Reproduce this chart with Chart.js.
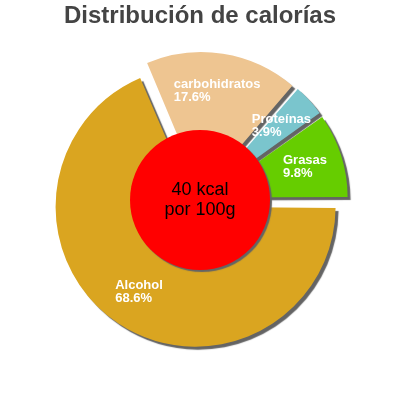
<!DOCTYPE html>
<html><head><meta charset="utf-8">
<script src="https://cdn.jsdelivr.net/npm/chart.js@4/dist/chart.umd.min.js"></script>
<style>html,body{margin:0;padding:0;background:#fff}canvas{display:block}</style>
</head><body>
<canvas id="c" width="400" height="400" style="width:400px;height:400px"></canvas>
<script>
const categories = ['Alcohol', 'carbohidratos', 'Proteínas', 'Grasas'];
const values = [68.6, 17.6, 3.9, 9.8];
const colors = ['#DAA520', '#EEC591', '#7AC5CD', '#66CD00'];
const titleText = 'Distribución de calorías';
const centerLines = ['40 kcal', 'por 100g'];

const GAP = 8;
const BASE_R = 140;
const FONT = "'Liberation Sans', Arial, sans-serif";

const decorPlugin = {
  id: 'decor',
  beforeDatasetsDraw(chart) {
    const arcs = chart.getDatasetMeta(0).data;
    // Chart.js translates an arc by offset/4 and enlarges it by offset/4*fix: keep visible radius constant
    arcs.forEach(a => {
      const fix = 1 - Math.sin(Math.min(Math.PI, a.circumference || 0));
      a.outerRadius = BASE_R - GAP * fix;
    });
    const ctx = chart.ctx;
    ctx.save();
    ctx.shadowColor = 'rgba(100,100,100,1)';
    ctx.shadowOffsetX = 3;
    ctx.shadowOffsetY = 3;
    ctx.shadowBlur = 1;
  },
  afterDatasetsDraw(chart) {
    const ctx = chart.ctx;
    ctx.restore();
    const meta = chart.getDatasetMeta(0);
    const arcs = meta.data;
    if (!arcs.length) return;
    const cx = arcs[0].x, cy = arcs[0].y, R = BASE_R;
    // center circle
    ctx.save();
    ctx.shadowColor = 'rgba(100,100,100,1)';
    ctx.shadowOffsetX = 2;
    ctx.shadowOffsetY = 2;
    ctx.shadowBlur = 1;
    ctx.beginPath();
    ctx.arc(cx, cy, R / 2, 0, Math.PI * 2);
    ctx.fillStyle = '#FF0000';
    ctx.fill();
    ctx.restore();
    // center text
    ctx.save();
    ctx.fillStyle = '#000';
    ctx.font = '18px ' + FONT;
    ctx.textAlign = 'center';
    ctx.textBaseline = 'alphabetic';
    ctx.fillText(centerLines[0], cx, cy - 5);
    ctx.fillText(centerLines[1], cx, cy + 15);
    ctx.restore();
    // slice labels
    ctx.save();
    ctx.fillStyle = '#FFFFFF';
    ctx.font = 'bold 13px ' + FONT;
    ctx.textAlign = 'left';
    ctx.textBaseline = 'middle';
    arcs.forEach((a, i) => {
      const mid = (a.startAngle + a.endAngle) / 2;
      const d = GAP + 0.73 * R;
      const bx = a.x + Math.cos(mid) * d;
      const by = a.y + Math.sin(mid) * d;
      const l1 = categories[i];
      const l2 = values[i].toFixed(1) + '%';
      const w = Math.max(ctx.measureText(l1).width, ctx.measureText(l2).width);
      const left = bx - w / 2;
      ctx.fillText(l1, left, by - 6.5);
      ctx.fillText(l2, left, by + 6.5);
    });
    ctx.restore();
  }
};

new Chart(document.getElementById('c'), {
  type: 'pie',
  data: {
    labels: categories,
    datasets: [{
      data: values,
      backgroundColor: colors,
      borderWidth: 0,
      offset: GAP * 4,
      clip: false
    }]
  },
  options: {
    responsive: false,
    animation: false,
    devicePixelRatio: 1,
    rotation: 90,
    radius: BASE_R,
    layout: { padding: { top: 0, bottom: 30.8, left: 0, right: 0 } },
    plugins: {
      legend: { display: false },
      tooltip: { enabled: false },
      title: {
        display: true,
        text: titleText,
        color: '#444444',
        font: { size: 24, weight: 'bold', family: FONT, lineHeight: 1.2 },
        padding: { top: 2, bottom: 0 }
      }
    }
  },
  plugins: [decorPlugin]
});
</script>
</body></html>
